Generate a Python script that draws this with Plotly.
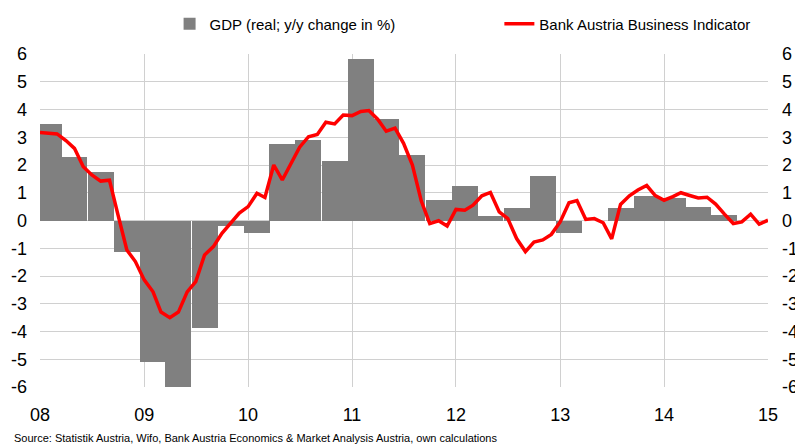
import pandas as pd
import plotly.graph_objects as go

# Quarterly GDP (real, y/y change in %), 2008Q1 .. 2014Q3
gdp_quarters = pd.date_range("2008-02-01", periods=27, freq="3MS")
gdp_values = [3.48, 2.29, 1.75, -1.12,
              -5.10, -6.07, -3.87, -0.20,
              -0.45, 2.76, 2.90, 2.14,
              5.83, 3.66, 2.36, 0.73,
              1.24, 0.17, 0.45, 1.60,
              -0.46, 0.00, 0.45, 0.90,
              0.81, 0.49, 0.20]

# Monthly Bank Austria Business Indicator, Jan 2008 .. Jan 2015
bi_months = pd.date_range("2008-01-01", periods=85, freq="MS")
bi_values = [3.17, 3.16, 3.12, 2.88, 2.60, 1.94, 1.64, 1.42, 1.45, 0.20, -1.06, -1.48,
             -2.14, -2.57, -3.30, -3.50, -3.30, -2.57, -2.20, -1.24, -0.94, -0.46, -0.10, 0.27,
             0.50, 0.98, 0.83, 2.00, 1.46, 2.04, 2.64, 3.02, 3.10, 3.54, 3.48, 3.80,
             3.78, 3.93, 3.96, 3.65, 3.22, 3.33, 2.78, 2.00, 0.71, -0.11, -0.01, -0.20,
             0.40, 0.37, 0.55, 0.89, 1.01, 0.31, 0.07, -0.65, -1.12, -0.78, -0.70, -0.50,
             -0.05, 0.64, 0.72, 0.04, 0.07, -0.08, -0.66, 0.58, 0.89, 1.10, 1.26, 0.90,
             0.73, 0.86, 1.00, 0.90, 0.81, 0.84, 0.59, 0.23, -0.11, -0.05, 0.23, -0.13,
             0.01]

year_ticks = pd.date_range("2008-01-01", periods=8, freq="YS")
year_labels = ["08", "09", "10", "11", "12", "13", "14", "15"]
y_ticks = list(range(-6, 7))
y_labels = [str(v) for v in y_ticks]

quarter_ms = 365.25 / 4 * 86400000

FONT = "Liberation Sans, Arial, sans-serif"

fig = go.Figure()
fig.add_trace(go.Bar(
    x=gdp_quarters, y=gdp_values, width=quarter_ms,
    marker=dict(color="#808080", line=dict(width=0)),
    name="GDP (real; y/y change in %)", legend="legend",
))
fig.add_trace(go.Scatter(
    x=bi_months, y=bi_values, mode="lines",
    line=dict(color="#ff0000", width=3.5),
    name="Bank Austria Business Indicator", legend="legend2",
))
# invisible trace to carry the right-hand axis
fig.add_trace(go.Scatter(x=[bi_months[0]], y=[0], yaxis="y2", mode="markers",
                         marker=dict(opacity=0), showlegend=False, hoverinfo="skip"))

grid = "#d0d0d0"
tickfont = dict(family=FONT, size=18, color="black")
legfont = dict(family=FONT, size=15, color="black")
leg_y = 1 - 16 / 436
fig.update_layout(
    width=795, height=436,
    margin=dict(l=32, r=35, t=46, b=57),
    paper_bgcolor="white", plot_bgcolor="white",
    bargap=0,
    showlegend=True,
    legend=dict(orientation="h", x=0.178, y=leg_y, yref="container",
                xanchor="left", yanchor="middle",
                font=legfont, bgcolor="rgba(0,0,0,0)"),
    legend2=dict(orientation="h", x=0.631, y=leg_y, yref="container",
                 xanchor="left", yanchor="middle",
                 font=legfont, bgcolor="rgba(0,0,0,0)"),
    xaxis=dict(type="date", range=[year_ticks[0], year_ticks[-1]],
               tickvals=year_ticks, ticktext=year_labels,
               showgrid=True, gridcolor=grid, gridwidth=1,
               zeroline=False, showline=False, ticks="", automargin=False,
               tickfont=tickfont, ticklabelstandoff=15),
    yaxis=dict(range=[-6, 6], tickvals=y_ticks, ticktext=y_labels,
               showgrid=True, gridcolor=grid, gridwidth=1,
               zeroline=False, showline=False, ticks="", automargin=False,
               tickfont=tickfont, ticklabelstandoff=12),
    yaxis2=dict(range=[-6, 6], tickvals=y_ticks, ticktext=y_labels,
                overlaying="y", side="right", showgrid=False,
                zeroline=False, showline=False, ticks="", automargin=False,
                tickfont=tickfont, ticklabelstandoff=13),
    annotations=[dict(
        text="Source: Statistik Austria, Wifo, Bank Austria Economics & Market Analysis Austria, own calculations",
        xref="paper", yref="paper", x=-0.0385, y=-0.153, xanchor="left", yanchor="middle",
        showarrow=False, font=dict(family=FONT, size=11, color="black"))],
)

fig.write_html("out.html")
